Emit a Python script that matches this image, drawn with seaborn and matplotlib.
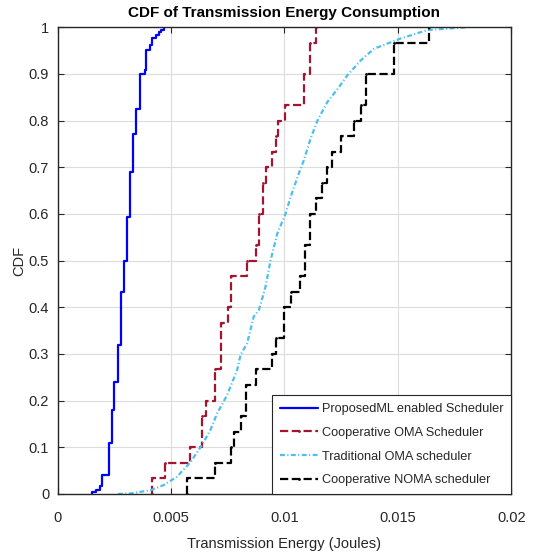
#!/usr/bin/env python3
# CDF of transmission energy consumption, four schedulers (stairs + smooth-ish ECDF)

import pandas as pd
import matplotlib
matplotlib.use("Agg")
import matplotlib.pyplot as plt
import seaborn as sns

# ---------- DATA ----------
# ProposedML enabled Scheduler: jump positions (J) and CDF level after each jump
ml_x = [0.00151, 0.00169, 0.00188, 0.00198, 0.00225, 0.00240, 0.00250, 0.00265,
        0.00278, 0.00291, 0.00307, 0.00320, 0.00332, 0.00347, 0.00362, 0.00387,
        0.00391, 0.00406, 0.00418, 0.00432, 0.00446, 0.00457, 0.00470]
ml_cdf = [0.004, 0.009, 0.017, 0.041, 0.110, 0.180, 0.240, 0.320,
          0.433, 0.500, 0.594, 0.690, 0.772, 0.824, 0.900, 0.909,
          0.951, 0.961, 0.976, 0.983, 0.990, 0.995, 1.000]

# Cooperative OMA Scheduler: 30 samples -> jump positions and cumulative counts
N_SAMPLES = 30
coma_x = [0.00416, 0.00472, 0.00583, 0.00637, 0.00656, 0.00696, 0.00721,
          0.00750, 0.00765, 0.00836, 0.00877, 0.00889, 0.00907, 0.00921,
          0.00947, 0.00961, 0.00973, 0.01001, 0.01086, 0.01113, 0.01138]
coma_count = [1, 2, 3, 5, 6, 8, 11, 12, 14, 15, 16, 18, 20, 21, 22, 23, 24,
              25, 27, 29, 30]

# Traditional OMA scheduler: many samples, read as (x, CDF) points
toma_x = [0.00266, 0.00320, 0.00410, 0.00468, 0.00527, 0.00586, 0.00637,
          0.00674, 0.00704, 0.00748, 0.00792, 0.00807, 0.00836, 0.00865,
          0.00888, 0.00917, 0.00939, 0.00969, 0.01006, 0.01028, 0.01064,
          0.01086, 0.01116, 0.01146, 0.01190, 0.01234, 0.01278, 0.01337,
          0.01396, 0.01514, 0.01632, 0.01810]
toma_cdf = [0.000, 0.001, 0.008, 0.019, 0.037, 0.068, 0.105,
            0.137, 0.173, 0.212, 0.266, 0.298, 0.323, 0.380,
            0.394, 0.444, 0.500, 0.558, 0.601, 0.637, 0.687,
            0.715, 0.762, 0.800, 0.840, 0.867, 0.897, 0.929,
            0.954, 0.976, 0.994, 1.000]

# Cooperative NOMA scheduler: 30 samples -> jump positions and cumulative counts
cnoma_x = [0.00570, 0.00696, 0.00765, 0.00780, 0.00807, 0.00833, 0.00877,
           0.00947, 0.00961, 0.00998, 0.01028, 0.01070, 0.01090, 0.01111,
           0.01140, 0.01168, 0.01190, 0.01212, 0.01249, 0.01307, 0.01337,
           0.01362, 0.01485, 0.01639]
cnoma_count = [1, 2, 3, 4, 5, 7, 8, 9, 10, 12, 13, 14, 16, 18, 19, 20, 21,
               22, 23, 24, 25, 27, 29, 30]

LABELS = ["ProposedML enabled Scheduler", "Cooperative OMA Scheduler",
          "Traditional OMA scheduler", "Cooperative NOMA scheduler"]
X_TICKS = [0, 0.005, 0.01, 0.015, 0.02]
X_TICKLABELS = ["0", "0.005", "0.01", "0.015", "0.02"]
Y_TICKS = [i / 10 for i in range(11)]
Y_TICKLABELS = ["0"] + [f"{i / 10:g}" for i in range(1, 10)] + ["1"]
# ------------------------------------------------------------


def stairs_frame(xs, levels):
    # start at 0 on the first jump, then the level after each jump
    return pd.DataFrame({"x": [xs[0]] + list(xs), "cdf": [0.0] + list(levels)})


sns.set_style("ticks")
plt.rcParams["font.family"] = ["Liberation Sans", "DejaVu Sans"]
plt.rcParams["text.color"] = "#262626"

fig = plt.figure(figsize=(5.35, 5.55), dpi=100)
ax = fig.add_axes([0.1075, 0.110, 0.848, 0.841])

ml_df = stairs_frame(ml_x, ml_cdf)
coma_df = stairs_frame(coma_x, [c / N_SAMPLES for c in coma_count])
cnoma_df = stairs_frame(cnoma_x, [c / N_SAMPLES for c in cnoma_count])
toma_df = pd.DataFrame({"x": toma_x, "cdf": toma_cdf})

common = dict(x="x", y="cdf", estimator=None, sort=False, ax=ax)
sns.lineplot(data=ml_df, color="#0000FF", linewidth=1.6, drawstyle="steps-post",
             label=LABELS[0], **common)
sns.lineplot(data=coma_df, color="#A2142F", linewidth=1.6, linestyle="--",
             drawstyle="steps-post", marker=".", markersize=4, markeredgewidth=0,
             label=LABELS[1], **common)
sns.lineplot(data=toma_df, color="#4DBEEE", linewidth=1.6,
             linestyle=(0, (2.2, 1.1, 0.5, 1.1)), label=LABELS[2], **common)
sns.lineplot(data=cnoma_df, color="black", linewidth=1.6, linestyle="--",
             drawstyle="steps-post", marker=".", markersize=4, markeredgewidth=0,
             label=LABELS[3], **common)

ax.set_xlim(0, 0.02)
ax.set_ylim(0, 1)
ax.set_xticks(X_TICKS)
ax.set_xticklabels(X_TICKLABELS)
ax.set_yticks(Y_TICKS)
ax.set_yticklabels(Y_TICKLABELS)
ax.grid(True, color="#dcdcdc", linewidth=0.8)
ax.tick_params(direction="in", top=True, right=True, length=4, width=0.8,
               colors="#262626", labelsize=10.5)
ax.tick_params(axis="x", pad=12)
ax.tick_params(axis="y", pad=6)
for sp in ax.spines.values():
    sp.set_visible(True)
    sp.set_color("#262626")
    sp.set_linewidth(1.0)

ax.set_xlabel("Transmission Energy (Joules)", fontsize=10.5, color="#262626",
              labelpad=9)
ax.set_ylabel("CDF", fontsize=10.5, color="#262626", labelpad=2)
ax.set_title("CDF of Transmission Energy Consumption", fontsize=11,
             fontweight="bold", color="black", pad=7)

leg = ax.legend(loc="lower right", borderaxespad=0, fancybox=False,
                edgecolor="#262626", framealpha=1, fontsize=9.2,
                handlelength=3.0, handletextpad=0.3, borderpad=0.6,
                labelspacing=0.92)
leg.get_frame().set_linewidth(0.8)

fig.savefig("out.png", dpi=100)
